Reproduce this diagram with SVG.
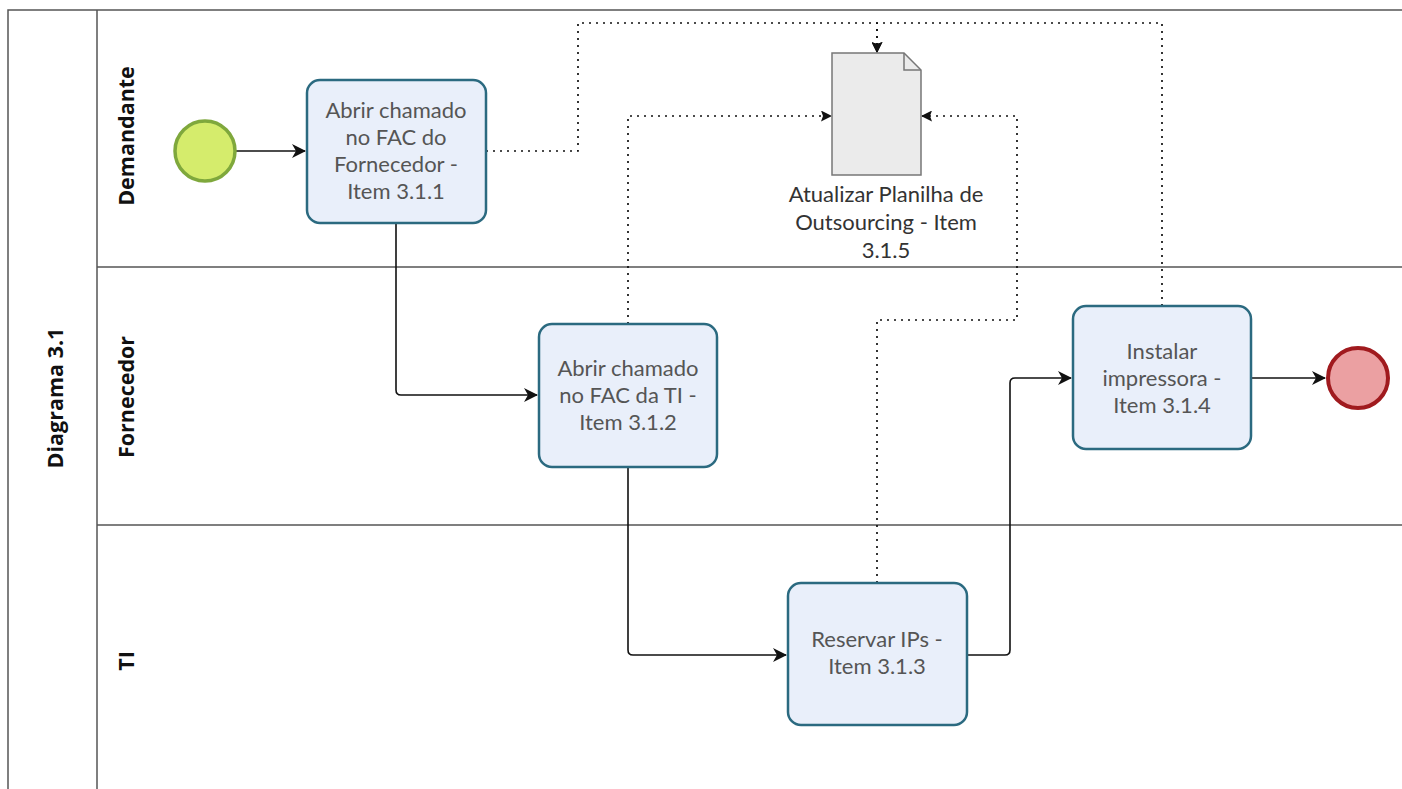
<svg xmlns="http://www.w3.org/2000/svg" width="1402" height="789" viewBox="0 0 1402 789">
<style>
.lane{fill:none;stroke:#555;stroke-width:1.5}
.lbl{font-family:"Open Sans","Noto Sans",sans-serif;font-weight:bold;font-size:21.5px;fill:#111;text-anchor:middle}
.task rect{fill:#e9effa;stroke:#2b6a80;stroke-width:2.5}
.task text,.doc text{font-family:Lato,"Open Sans",sans-serif;font-size:22px;fill:#555;text-anchor:middle}
.doc text{fill:#333}
.flow{fill:none;stroke:#111;stroke-width:1.6}
.assoc{fill:none;stroke:#111;stroke-width:1.7;stroke-dasharray:2 5}
</style>
<defs>
<marker id="arr" viewBox="0 0 14 14" refX="13" refY="7" markerWidth="14" markerHeight="14" markerUnits="userSpaceOnUse" orient="auto">
<path d="M0,0 L14,7 L0,14 L4,7 Z" fill="#111"/>
</marker>
<marker id="arrs" viewBox="0 0 11 11" refX="10" refY="5.5" markerWidth="11" markerHeight="11" markerUnits="userSpaceOnUse" orient="auto">
<path d="M0,0 L11,5.5 L0,11 L2,5.5 Z" fill="#111"/>
</marker>
</defs>
<rect width="1402" height="789" fill="#fff"/>
<g id="pool">
<path class="lane" d="M1402,10 H8 V789"/>
<line class="lane" x1="97" y1="10" x2="97" y2="789"/>
<line class="lane" x1="97" y1="267" x2="1402" y2="267"/>
<line class="lane" x1="97" y1="525" x2="1402" y2="525"/>
<text class="lbl" transform="translate(63,398) rotate(-90)">Diagrama 3.1</text>
</g>
<g id="lane-demandante"><text class="lbl" transform="translate(134,136) rotate(-90)">Demandante</text></g>
<g id="lane-fornecedor"><text class="lbl" transform="translate(134,397) rotate(-90)">Fornecedor</text></g>
<g id="lane-ti"><text class="lbl" transform="translate(134,661) rotate(-90)">TI</text></g>

<g id="connectors">
<path class="flow" d="M236,151 H305" marker-end="url(#arr)"/>
<path class="flow" d="M396,223 V390 Q396,395 401,395 H537" marker-end="url(#arr)"/>
<path class="flow" d="M628,467 V650 Q628,655 633,655 H786" marker-end="url(#arr)"/>
<path class="flow" d="M967,655 H1005 Q1010,655 1010,650 V383 Q1010,378 1015,378 H1071" marker-end="url(#arr)"/>
<path class="flow" d="M1251,378 H1325" marker-end="url(#arr)"/>
<path class="assoc" d="M486,151 H578 V23 H877 V52" marker-end="url(#arrs)"/>
<path class="assoc" d="M1162,306 V23 H877 V52" marker-end="url(#arrs)"/>
<path class="assoc" d="M628,324 V116 H831" marker-end="url(#arrs)"/>
<path class="assoc" d="M877,583 V320 H1017 V116 H922" marker-end="url(#arrs)"/>
</g>

<g id="start"><circle cx="205" cy="151" r="30" fill="#d5ec6c" stroke="#7fa83c" stroke-width="3.5"/></g>
<g id="task1" class="task">
<rect x="307" y="80" width="179" height="143" rx="13"/>
<text x="396" y="118">Abrir chamado</text>
<text x="396" y="145">no FAC do</text>
<text x="396" y="172">Fornecedor -</text>
<text x="396" y="199">Item 3.1.1</text>
</g>
<g id="task2" class="task">
<rect x="539" y="324" width="178" height="143" rx="13"/>
<text x="628" y="376">Abrir chamado</text>
<text x="628" y="403">no FAC da TI -</text>
<text x="628" y="430">Item 3.1.2</text>
</g>
<g id="task3" class="task">
<rect x="788" y="583" width="179" height="142" rx="13"/>
<text x="877" y="647">Reservar IPs -</text>
<text x="877" y="674">Item 3.1.3</text>
</g>
<g id="task4" class="task">
<rect x="1073" y="306" width="178" height="143" rx="13"/>
<text x="1162" y="359">Instalar</text>
<text x="1162" y="386">impressora -</text>
<text x="1162" y="413">Item 3.1.4</text>
</g>
<g id="end"><circle cx="1358" cy="378" r="30" fill="#eba0a2" stroke="#a01a1e" stroke-width="4"/></g>
<g id="doc" class="doc">
<path d="M832,53 H904 L921,70 V175 H832 Z" fill="#ebebeb" stroke="#777" stroke-width="1.5"/>
<path d="M904,53 V70 H921" fill="none" stroke="#777" stroke-width="1.5"/>
<text x="886" y="202">Atualizar Planilha de</text>
<text x="886" y="230">Outsourcing - Item</text>
<text x="886" y="258">3.1.5</text>
</g>
</svg>
